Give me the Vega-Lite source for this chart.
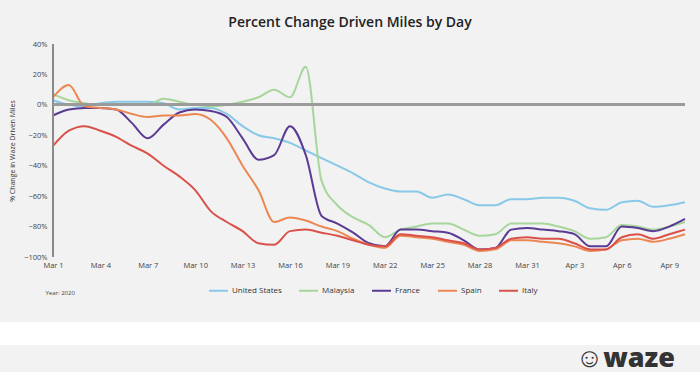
{
  "$schema": "https://vega.github.io/schema/vega-lite/v6.json",
  "background": "#f2f2f2",
  "padding": {"top": 16, "left": 0, "right": 0, "bottom": 0},
  "title": {"text": "Percent Change Driven Miles by Day", "font": "Open Sans", "fontSize": 14, "fontWeight": 600, "color": "#222222", "anchor": "middle", "offset": 10},
  "spacing": 26,
  "vconcat": [
    {
      "width": 685,
      "height": 213,
      "data": {"values": [
        {"date": "2020-03-01", "United States": 0.03, "Malaysia": 0.07, "France": -0.07, "Spain": 0.05, "Italy": -0.27},
        {"date": "2020-03-02", "United States": 0.0, "Malaysia": 0.03, "France": -0.03, "Spain": 0.13, "Italy": -0.17},
        {"date": "2020-03-03", "United States": -0.01, "Malaysia": 0.01, "France": -0.02, "Spain": -0.01, "Italy": -0.14},
        {"date": "2020-03-04", "United States": 0.01, "Malaysia": 0.0, "France": -0.02, "Spain": -0.02, "Italy": -0.17},
        {"date": "2020-03-05", "United States": 0.02, "Malaysia": 0.0, "France": -0.03, "Spain": -0.03, "Italy": -0.21},
        {"date": "2020-03-06", "United States": 0.02, "Malaysia": 0.0, "France": -0.12, "Spain": -0.06, "Italy": -0.27},
        {"date": "2020-03-07", "United States": 0.02, "Malaysia": 0.0, "France": -0.22, "Spain": -0.08, "Italy": -0.32},
        {"date": "2020-03-08", "United States": 0.01, "Malaysia": 0.04, "France": -0.13, "Spain": -0.07, "Italy": -0.40},
        {"date": "2020-03-09", "United States": -0.03, "Malaysia": 0.02, "France": -0.05, "Spain": -0.07, "Italy": -0.47},
        {"date": "2020-03-10", "United States": -0.02, "Malaysia": 0.0, "France": -0.03, "Spain": -0.06, "Italy": -0.56},
        {"date": "2020-03-11", "United States": -0.02, "Malaysia": -0.01, "France": -0.04, "Spain": -0.10, "Italy": -0.70},
        {"date": "2020-03-12", "United States": -0.06, "Malaysia": 0.0, "France": -0.08, "Spain": -0.22, "Italy": -0.77},
        {"date": "2020-03-13", "United States": -0.14, "Malaysia": 0.02, "France": -0.22, "Spain": -0.40, "Italy": -0.83},
        {"date": "2020-03-14", "United States": -0.20, "Malaysia": 0.05, "France": -0.36, "Spain": -0.56, "Italy": -0.91},
        {"date": "2020-03-15", "United States": -0.22, "Malaysia": 0.10, "France": -0.33, "Spain": -0.77, "Italy": -0.92},
        {"date": "2020-03-16", "United States": -0.25, "Malaysia": 0.05, "France": -0.14, "Spain": -0.74, "Italy": -0.83},
        {"date": "2020-03-17", "United States": -0.30, "Malaysia": 0.25, "France": -0.33, "Spain": -0.76, "Italy": -0.82},
        {"date": "2020-03-18", "United States": -0.35, "Malaysia": -0.50, "France": -0.73, "Spain": -0.80, "Italy": -0.84},
        {"date": "2020-03-19", "United States": -0.40, "Malaysia": -0.66, "France": -0.78, "Spain": -0.83, "Italy": -0.86},
        {"date": "2020-03-20", "United States": -0.45, "Malaysia": -0.74, "France": -0.84, "Spain": -0.88, "Italy": -0.89},
        {"date": "2020-03-21", "United States": -0.51, "Malaysia": -0.79, "France": -0.91, "Spain": -0.92, "Italy": -0.92},
        {"date": "2020-03-22", "United States": -0.55, "Malaysia": -0.87, "France": -0.93, "Spain": -0.94, "Italy": -0.93},
        {"date": "2020-03-23", "United States": -0.57, "Malaysia": -0.82, "France": -0.82, "Spain": -0.86, "Italy": -0.85},
        {"date": "2020-03-24", "United States": -0.57, "Malaysia": -0.80, "France": -0.82, "Spain": -0.87, "Italy": -0.86},
        {"date": "2020-03-25", "United States": -0.61, "Malaysia": -0.78, "France": -0.83, "Spain": -0.88, "Italy": -0.87},
        {"date": "2020-03-26", "United States": -0.59, "Malaysia": -0.78, "France": -0.84, "Spain": -0.90, "Italy": -0.89},
        {"date": "2020-03-27", "United States": -0.62, "Malaysia": -0.82, "France": -0.89, "Spain": -0.92, "Italy": -0.91},
        {"date": "2020-03-28", "United States": -0.66, "Malaysia": -0.86, "France": -0.95, "Spain": -0.96, "Italy": -0.95},
        {"date": "2020-03-29", "United States": -0.66, "Malaysia": -0.85, "France": -0.94, "Spain": -0.95, "Italy": -0.94},
        {"date": "2020-03-30", "United States": -0.62, "Malaysia": -0.78, "France": -0.82, "Spain": -0.89, "Italy": -0.88},
        {"date": "2020-03-31", "United States": -0.62, "Malaysia": -0.78, "France": -0.81, "Spain": -0.89, "Italy": -0.87},
        {"date": "2020-04-01", "United States": -0.61, "Malaysia": -0.78, "France": -0.82, "Spain": -0.90, "Italy": -0.88},
        {"date": "2020-04-02", "United States": -0.61, "Malaysia": -0.80, "France": -0.83, "Spain": -0.91, "Italy": -0.88},
        {"date": "2020-04-03", "United States": -0.63, "Malaysia": -0.83, "France": -0.85, "Spain": -0.93, "Italy": -0.91},
        {"date": "2020-04-04", "United States": -0.68, "Malaysia": -0.88, "France": -0.93, "Spain": -0.96, "Italy": -0.95},
        {"date": "2020-04-05", "United States": -0.69, "Malaysia": -0.87, "France": -0.93, "Spain": -0.95, "Italy": -0.95},
        {"date": "2020-04-06", "United States": -0.64, "Malaysia": -0.79, "France": -0.80, "Spain": -0.89, "Italy": -0.87},
        {"date": "2020-04-07", "United States": -0.63, "Malaysia": -0.80, "France": -0.81, "Spain": -0.88, "Italy": -0.85},
        {"date": "2020-04-08", "United States": -0.67, "Malaysia": -0.82, "France": -0.83, "Spain": -0.90, "Italy": -0.88},
        {"date": "2020-04-09", "United States": -0.66, "Malaysia": -0.80, "France": -0.80, "Spain": -0.88, "Italy": -0.85},
        {"date": "2020-04-10", "United States": -0.64, "Malaysia": -0.77, "France": -0.75, "Spain": -0.85, "Italy": -0.82}
      ]},
      "transform": [{"fold": ["United States", "Malaysia", "France", "Spain", "Italy"], "as": ["country", "change"]}],
      "layer": [
        {
          "mark": {"type": "line", "interpolate": "monotone", "strokeWidth": 2},
          "encoding": {
            "x": {
              "field": "date", "type": "temporal",
              "scale": {"type": "utc", "nice": false, "domain": [
                {"year": 2020, "month": 2, "date": 26, "hours": 15, "minutes": 30, "utc": true},
                {"year": 2020, "month": 4, "date": 10, "utc": true}
              ]},
              "axis": {
                "title": "Year: 2020", "titleFont": "Open Sans", "titleFontSize": 6, "titleFontWeight": "normal", "titleColor": "#444444",
                "titleAnchor": "start", "titleAlign": "left", "titleX": 45, "titlePadding": 21,
                "tickCount": 20,
                "values": [
                  {"year": 2020, "month": 3, "date": 1, "utc": true},
                  {"year": 2020, "month": 3, "date": 4, "utc": true},
                  {"year": 2020, "month": 3, "date": 7, "utc": true},
                  {"year": 2020, "month": 3, "date": 10, "utc": true},
                  {"year": 2020, "month": 3, "date": 13, "utc": true},
                  {"year": 2020, "month": 3, "date": 16, "utc": true},
                  {"year": 2020, "month": 3, "date": 19, "utc": true},
                  {"year": 2020, "month": 3, "date": 22, "utc": true},
                  {"year": 2020, "month": 3, "date": 25, "utc": true},
                  {"year": 2020, "month": 3, "date": 28, "utc": true},
                  {"year": 2020, "month": 3, "date": 31, "utc": true},
                  {"year": 2020, "month": 4, "date": 3, "utc": true},
                  {"year": 2020, "month": 4, "date": 6, "utc": true},
                  {"year": 2020, "month": 4, "date": 9, "utc": true}
                ],
                "format": "%b %-d", "labelFont": "Open Sans", "labelFontSize": 7.5, "labelColor": "#444444",
                "labelPadding": 4, "labelFlush": false, "labelOverlap": false, "ticks": false, "domain": false, "grid": false
              }
            },
            "y": {
              "field": "change", "type": "quantitative",
              "scale": {"domain": [-1, 0.4], "nice": false},
              "axis": {
                "title": "% Change in Waze Driven Miles", "titleFont": "Open Sans", "titleFontSize": 7, "titleFontWeight": "normal", "titleColor": "#333333",
                "titlePadding": 8, "offset": -53,
                "tickCount": 10,
                "values": [-1, -0.8, -0.6, -0.4, -0.2, 0, 0.2, 0.4],
                "format": ".0%", "labelFont": "Open Sans", "labelFontSize": 7.5, "labelColor": "#444444",
                "labelOverlap": false, "labelFlush": false,
                "labelPadding": 6, "ticks": false, "grid": false, "domain": false
              }
            },
            "color": {
              "field": "country", "type": "nominal",
              "scale": {"domain": ["United States", "Malaysia", "France", "Spain", "Italy"], "range": ["#88c8e8", "#a6d69c", "#5b3a94", "#ec8753", "#d9514b"]},
              "legend": {
                "title": null, "orient": "none", "direction": "horizontal", "legendX": 208, "legendY": 236,
                "symbolType": "stroke", "symbolStrokeWidth": 2, "symbolSize": 361, "labelFont": "Open Sans", "labelFontSize": 8, "labelColor": "#333333",
                "labelOffset": 3, "columnPadding": 13
              }
            }
          }
        },
        {
          "mark": {"type": "rule", "color": "#8a8a8a", "strokeWidth": 1.5},
          "encoding": {
            "x": {"datum": {"year": 2020, "month": 3, "date": 1, "utc": true}},
            "y": {"datum": -1},
            "y2": {"datum": 0.4}
          }
        },
        {
          "mark": {"type": "rule", "color": "#9a9a9a", "strokeWidth": 2},
          "encoding": {
            "x": {"datum": {"year": 2020, "month": 3, "date": 1, "utc": true}},
            "x2": {"datum": {"year": 2020, "month": 4, "date": 10, "utc": true}},
            "y": {"datum": 0}
          }
        }
      ]
    },
    {
      "width": 700,
      "height": 23,
      "view": {"fill": "#ffffff", "stroke": null},
      "data": {"values": [{"logo": "waze"}]},
      "mark": {"type": "text", "opacity": 0},
      "encoding": {"text": {"field": "logo", "type": "nominal"}},
      "title": {"text": "☺waze", "orient": "bottom", "anchor": "end", "font": "Open Sans", "fontSize": 27, "fontWeight": 800, "color": "#333333", "offset": 1, "dx": -25}
    }
  ],
  "config": {"view": {"stroke": null}, "font": "Open Sans", "axisY": {"labelOverlap": false}, "axis": {"labelOverlap": false}}
}
